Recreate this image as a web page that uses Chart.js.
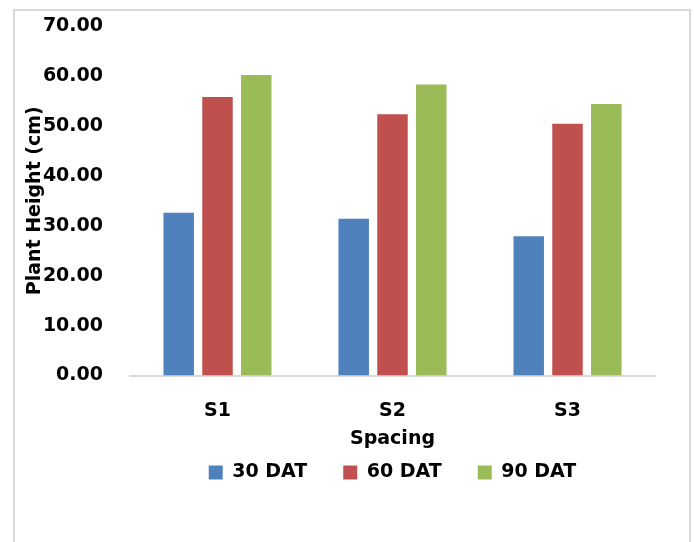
<!DOCTYPE html>
<html>
<head>
<meta charset="utf-8">
<script src="https://cdn.jsdelivr.net/npm/chart.js@4"></script>
<style>
  body { margin: 0; background: #fff; }
  #wrap { position: relative; width: 695px; height: 542px; overflow: hidden; }
  #frame { position: absolute; left: 13px; top: 9px; width: 674px; height: 560px; border: 2px solid #d9d9d9; }
  canvas { position: absolute; left: 0; top: 0; }
</style>
</head>
<body>
<div id="wrap">
  <div id="frame"></div>
  <canvas id="plantChart" width="695" height="542"></canvas>
</div>
<script>
const spacings = ['S1', 'S2', 'S3'];
const dat30 = [32.6, 31.4, 27.9];
const dat60 = [55.8, 52.3, 50.4];
const dat90 = [60.2, 58.3, 54.4];

const boldFont = { family: 'DejaVu Sans', size: 19, weight: 'bold' };

const ctx = document.getElementById('plantChart').getContext('2d');
new Chart(ctx, {
    type: 'bar',
    data: {
        labels: spacings,
        datasets: [
            { label: '30 DAT', data: dat30, backgroundColor: '#4F81BD' },
            { label: '60 DAT', data: dat60, backgroundColor: '#C0504D' },
            { label: '90 DAT', data: dat90, backgroundColor: '#9BBB59' }
        ]
    },
    options: {
        responsive: false,
        animation: false,
        categoryPercentage: 0.665,
        barPercentage: 0.786,
        layout: {
            padding: { left: 14, right: 40, top: 26, bottom: 50 }
        },
        scales: {
            x: {
                grid: { display: false },
                border: { display: true, color: '#d9d9d9', width: 2 },
                ticks: { color: '#000', font: boldFont, padding: 16 },
                title: {
                    display: true,
                    text: 'Spacing',
                    color: '#000',
                    font: boldFont,
                    padding: { top: 0, bottom: -23 }
                },
                afterFit: (scale) => { scale.height = 51.5; }
            },
            y: {
                min: 0,
                max: 70,
                grid: { display: false },
                border: { display: false },
                ticks: {
                    stepSize: 10,
                    color: '#000',
                    font: boldFont,
                    padding: 19,
                    callback: (v) => v.toFixed(2)
                },
                title: {
                    display: true,
                    text: 'Plant Height (cm)',
                    color: '#000',
                    font: boldFont,
                    padding: { top: 10, bottom: 0 }
                },
                afterFit: (scale) => {
                    scale.width = 116;
                    scale.paddingTop = 0;  // let the top label sit above the plot
                }
            }
        },
        plugins: {
            legend: {
                position: 'bottom',
                fullSize: false,
                labels: {
                    color: '#000',
                    font: boldFont,
                    boxWidth: 14,
                    boxHeight: 14,
                    padding: 36
                }
            },
            tooltip: { enabled: false }
        }
    }
});
</script>
</body>
</html>
